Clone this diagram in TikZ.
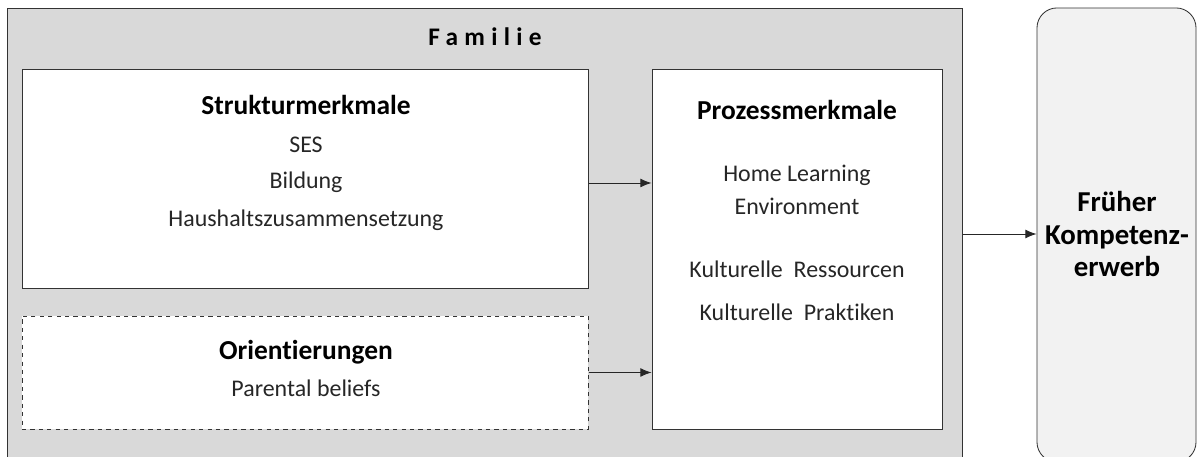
\documentclass[tikz,border=0pt]{standalone}
\usepackage{fontspec}
\setmainfont{Carlito}[Ligatures=NoCommon]
\usepackage{xcolor}
\usepackage{tikz}
\usetikzlibrary{arrows.meta,positioning,calc}
\definecolor{famgray}{HTML}{D9D9D9}
\definecolor{outgray}{HTML}{F2F2F2}
\definecolor{txtgray}{HTML}{262626}

\begin{document}
\begin{tikzpicture}[
  x=0.025cm,y=-0.025cm,
  box/.style={draw=black!80, line width=0.6pt, fill=white, inner sep=0pt},
  dashbox/.style={box, dashed},
  head/.style={font=\fontsize{19.5}{23}\selectfont\bfseries, text=black},
  item/.style={font=\fontsize{17}{20}\selectfont, text=txtgray},
  arrow/.style={-{Latex[length=2.8mm,width=2.2mm]}, line width=0.6pt, draw=black!85}
]
\useasboundingbox (0,0) rectangle (1198,457);
\node[box, fill=famgray, minimum width=23.85cm, minimum height=11.3cm] (familie) at (485,234) {};
\node[box, fill=outgray, rounded corners=0.5cm, minimum width=3.975cm, minimum height=11.35cm] (kompetenz) at (1116.5,235) {};
\node[box, minimum width=14.15cm, minimum height=5.475cm] (struktur) at (305,178.5) {};
\node[dashbox, minimum width=14.15cm, minimum height=2.825cm] (orient) at (305,372.5) {};
\node[box, minimum width=7.25cm, minimum height=9cm] (prozess) at (797,249) {};
% texts
\node[head, font=\fontsize{18}{21}\selectfont\bfseries\addfontfeatures{LetterSpace=25}] (famtitle) at (485,37) {Familie};
\node[head] (strtitle) at (306,105) {Strukturmerkmale};
\node[item] (ses) at (306,145) {SES};
\node[item] (bildung) at (306,182) {Bildung};
\node[item] (haushalt) at (306,220) {Haushaltszusammensetzung};
\node[head] (orititle) at (306,352) {Orientierungen};
\node[item] (beliefs) at (306,388) {Parental beliefs};
\node[head] (protitle) at (797,110) {Prozessmerkmale};
\node[item, align=center] (hle) at (797,190) {Home Learning\\[3pt]Environment};
\node[item] (ressourcen) at (797,269) {Kulturelle\ \ Ressourcen};
\node[item] (praktiken) at (797,312) {Kulturelle\ \ Praktiken};
\node[head, font=\fontsize{20.5}{23}\selectfont\bfseries, align=center] (komptext) at (1117,234) {Früher\\Kompetenz-\\erwerb};
% arrows
\draw[arrow] ($(struktur.east)+(0,4.5)$) -- ($(struktur.east -| prozess.west)+(0,4.5)$);
\draw[arrow] (orient.east) -- (orient.east -| prozess.west);
\draw[arrow] (familie.east) -- (familie.east -| kompetenz.west);
\end{tikzpicture}
\end{document}
